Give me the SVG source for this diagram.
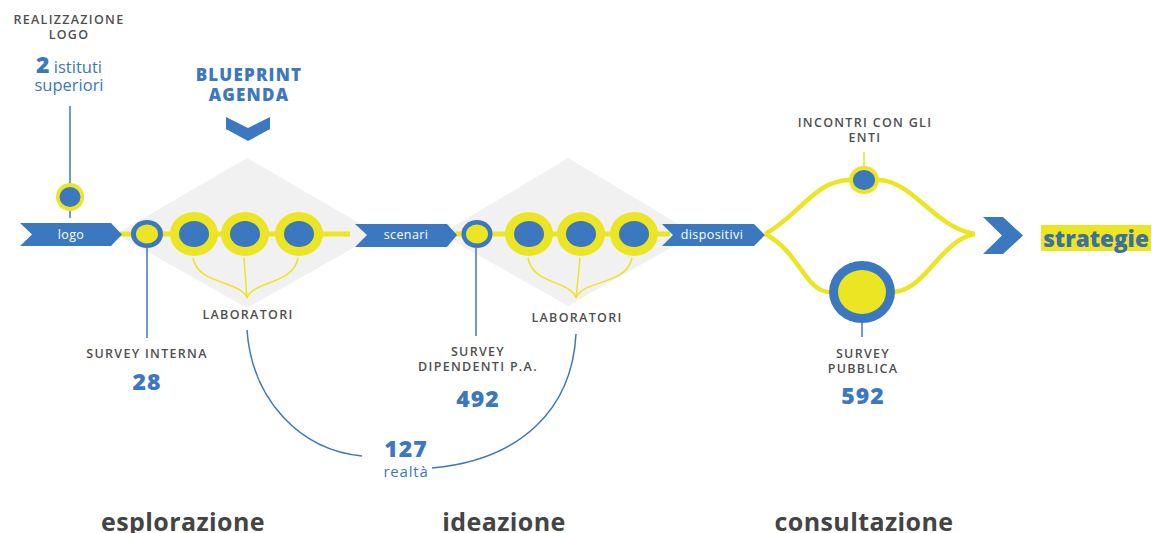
<svg xmlns="http://www.w3.org/2000/svg" width="1152" height="533" viewBox="0 0 1152 533">
<style>
.cap{font-family:"Open Sans","Liberation Sans",sans-serif;font-size:12.5px;fill:#4f4f4f;text-anchor:middle;font-weight:600;letter-spacing:1.3px}
.num{font-family:"Open Sans","Liberation Sans",sans-serif;font-size:23px;fill:#3b78bf;font-weight:800;text-anchor:middle;letter-spacing:1px}
.blu{font-family:"Open Sans","Liberation Sans",sans-serif;fill:#3b78bf;text-anchor:middle}
.ban{font-family:"Open Sans","Liberation Sans",sans-serif;font-size:12.5px;fill:#fff;text-anchor:middle;letter-spacing:0.4px}
.phase{font-family:"Open Sans","Liberation Sans",sans-serif;font-size:25px;fill:#444;font-weight:700;text-anchor:middle;letter-spacing:0.4px}
.yl{stroke:#ebe524;fill:none}
.bl{stroke:#3b78bf;fill:none;stroke-width:1.5}
.band{fill:#3b78bf}
</style>
<g id="diamonds">
<polygon points="247,158 378,234 247,308 116,234" fill="#f1f1f1"/>
<polygon points="568,158 695,234 568,306 441,234" fill="#f1f1f1"/>
</g>
<g id="connectors">
<line x1="70" y1="106" x2="70" y2="218" class="bl"/>
<line x1="120" y1="234" x2="350" y2="234" class="yl" stroke-width="5"/>
<line x1="455" y1="234" x2="670" y2="234" class="yl" stroke-width="5"/>
<line x1="147" y1="248" x2="147" y2="338" class="bl"/>
<line x1="476" y1="248" x2="476" y2="336" class="bl"/>
<path d="M193,258 C198,285 240,280 247,298 M244,258 L247,298 M298,258 C293,285 254,280 247,298" class="yl" stroke-width="1.5"/>
<path d="M528,258 C533,285 570,280 576,298 M580,258 L576,298 M632,258 C627,285 582,280 576,298" class="yl" stroke-width="1.5"/>
<path d="M247,330 C252,400 300,450 362,456" class="bl"/>
<path d="M576,334 C572,410 520,460 432,468" class="bl"/>
<path d="M765,234 C800,215 815,180 850,180 M878,180 C912,180 935,228 975,234" class="yl" stroke-width="4.5"/>
<path d="M765,234 C800,252 805,292 830,292 M892,292 C925,292 940,240 975,234" class="yl" stroke-width="4.5"/>
<line x1="864" y1="152" x2="864" y2="166" stroke="#ebe524" stroke-width="1.5"/>
<line x1="862" y1="322" x2="862" y2="337" class="bl"/>
</g>
<g id="top-labels">
<text x="69" y="24" class="cap">REALIZZAZIONE</text>
<text x="69" y="38.5" class="cap">LOGO</text>
<text x="69" y="73" class="blu" font-size="16.5"><tspan font-weight="800" font-size="23">2</tspan> istituti</text>
<text x="69" y="91" class="blu" font-size="16.5">superiori</text>
<text x="249" y="81" class="blu" font-size="17" font-weight="800" letter-spacing="1.2">BLUEPRINT</text>
<text x="249" y="101" class="blu" font-size="17" font-weight="800" letter-spacing="1.2">AGENDA</text>
<polygon points="226,117 248,128 270,117 270,129 248,141 226,129" class="band"/>
</g>
<g id="logo-node">
<polygon points="20,223 111,223 122,234.5 111,246 20,246 32,234.5" class="band"/>
<text x="71" y="238.5" class="ban">logo</text>
<circle cx="70" cy="197" r="14" fill="#ebe524"/>
<ellipse cx="70" cy="197" rx="10.5" ry="10" fill="#3b78bf"/>
</g>
<g id="survey-interna">
<ellipse cx="147" cy="234" rx="16" ry="14" fill="#3b78bf"/>
<ellipse cx="147" cy="234" rx="11" ry="9.5" fill="#ebe524"/>
<text x="147" y="358" class="cap">SURVEY INTERNA</text>
<text x="147" y="390" class="num">28</text>
</g>
<g id="laboratori-1">
<ellipse cx="194" cy="234" rx="24" ry="22" fill="#ebe524"/>
<ellipse cx="194" cy="234" rx="15" ry="13" fill="#3b78bf"/>
<ellipse cx="245" cy="234" rx="24" ry="22" fill="#ebe524"/>
<ellipse cx="245" cy="234" rx="15" ry="13" fill="#3b78bf"/>
<ellipse cx="299" cy="234" rx="24" ry="22" fill="#ebe524"/>
<ellipse cx="299" cy="234" rx="15" ry="13" fill="#3b78bf"/>
<text x="248" y="319" class="cap">LABORATORI</text>
</g>
<g id="scenari-node">
<polygon points="355,224 447,224 457,235 447,247 355,247 367,235" class="band"/>
<text x="406" y="239" class="ban">scenari</text>
</g>
<g id="survey-dipendenti">
<ellipse cx="477" cy="234" rx="15.5" ry="14" fill="#3b78bf"/>
<ellipse cx="477" cy="234" rx="11" ry="9.5" fill="#ebe524"/>
<text x="478" y="356" class="cap">SURVEY</text>
<text x="478" y="371" class="cap">DIPENDENTI P.A.</text>
<text x="478" y="407" class="num">492</text>
</g>
<g id="laboratori-2">
<ellipse cx="529" cy="234" rx="24" ry="22" fill="#ebe524"/>
<ellipse cx="529" cy="234" rx="15" ry="13" fill="#3b78bf"/>
<ellipse cx="581" cy="234" rx="24" ry="22" fill="#ebe524"/>
<ellipse cx="581" cy="234" rx="15" ry="13" fill="#3b78bf"/>
<ellipse cx="634" cy="234" rx="24" ry="22" fill="#ebe524"/>
<ellipse cx="634" cy="234" rx="15" ry="13" fill="#3b78bf"/>
<text x="577" y="322" class="cap">LABORATORI</text>
</g>
<g id="realta">
<text x="406" y="457" class="num">127</text>
<text x="406" y="477" class="blu" font-size="15" letter-spacing="0.8">realtà</text>
</g>
<g id="dispositivi-node">
<polygon points="662,224 754,224 765,235 754,246 662,246 673,235" class="band"/>
<text x="712" y="239" class="ban">dispositivi</text>
</g>
<g id="incontri">
<ellipse cx="864" cy="180" rx="15" ry="14" fill="#ebe524"/>
<ellipse cx="864" cy="180" rx="11" ry="10" fill="#3b78bf"/>
<text x="865" y="127" class="cap">INCONTRI CON GLI</text>
<text x="865" y="141.5" class="cap">ENTI</text>
</g>
<g id="survey-pubblica">
<ellipse cx="862" cy="292" rx="33" ry="31" fill="#3b78bf"/>
<ellipse cx="862" cy="292" rx="24" ry="22" fill="#ebe524"/>
<text x="863" y="358" class="cap">SURVEY</text>
<text x="863" y="372.5" class="cap">PUBBLICA</text>
<text x="863" y="404" class="num">592</text>
</g>
<g id="strategie">
<polygon points="983,217 1003,217 1023,235.5 1003,254 983,254 1002,235.5" class="band"/>
<rect x="1041" y="225" width="110" height="26" fill="#ebe524"/>
<text x="1096" y="247" class="blu" font-size="22.5" font-weight="800" style="fill:#3d6f9f">strategie</text>
</g>
<g id="phases">
<text x="183" y="531" class="phase">esplorazione</text>
<text x="504" y="531" class="phase">ideazione</text>
<text x="864" y="531" class="phase">consultazione</text>
</g>
</svg>
